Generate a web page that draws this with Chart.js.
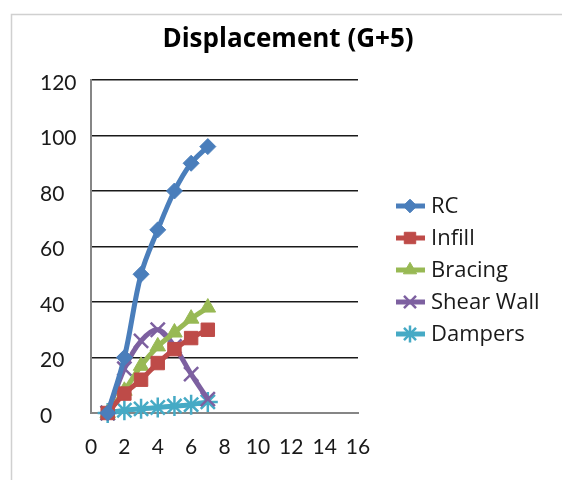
<!DOCTYPE html>
<html>
<head>
<meta charset="utf-8">
<script src="https://cdn.jsdelivr.net/npm/chart.js@4/dist/chart.umd.min.js"></script>
<style>
  html, body { margin: 0; padding: 0; background: #fff; }
  #wrap { width: 562px; height: 480px; position: relative; }
</style>
</head>
<body>
<div id="wrap"><canvas id="c" width="562" height="480"></canvas></div>
<script>
const chartTitle = 'Displacement (G+5)';
const seriesNames = ['RC', 'Infill', 'Bracing', 'Shear Wall', 'Dampers'];
const xValues = [1, 2, 3, 4, 5, 6, 7];
const rcValues = [0, 20, 50, 66, 80, 90, 96];
const infillValues = [0, 7, 12, 18, 23, 27, 30];
const bracingValues = [0, 8, 17, 24, 29, 34, 38];
const shearWallValues = [0, 16, 26, 30, 24, 14, 5];
const dampersValues = [0, 1, 1.5, 2, 2.5, 3, 4];
const xTicks = [0, 2, 4, 6, 8, 10, 12, 14, 16];
const yTicks = [0, 20, 40, 60, 80, 100, 120];

const colors = ['#4a7ebb', '#be4b48', '#98b954', '#7d60a0', '#46aac5'];
const pointStyles = ['rectRot', 'rect', 'triangle', 'crossRot', 'star'];
const pointRadii = [8, 9.5, 9, 10, 10];
const allValues = [rcValues, infillValues, bracingValues, shearWallValues, dampersValues];

const FONT = 'Lato, "Open Sans", sans-serif';
const WIDE_FONT = '"Open Sans", Lato, sans-serif';

const datasets = seriesNames.map((name, i) => ({
  label: name,
  data: xValues.map((x, j) => ({ x: x, y: allValues[i][j] })),
  showLine: true,
  borderColor: colors[i],
  backgroundColor: colors[i],
  borderWidth: 5,
  tension: 0.35,
  pointStyle: pointStyles[i],
  pointRadius: pointRadii[i],
  pointBackgroundColor: colors[i],
  pointBorderColor: colors[i],
  pointBorderWidth: (pointStyles[i] === 'crossRot' || pointStyles[i] === 'star') ? 2.5 : 1,
  clip: false
}));

const framePlugin = {
  id: 'frame',
  beforeDraw(chart) {
    const ctx = chart.ctx;
    ctx.save();
    ctx.fillStyle = '#ffffff';
    ctx.fillRect(0, 0, chart.width, chart.height);
    ctx.strokeStyle = '#d0d0d0';
    ctx.lineWidth = 1.5;
    ctx.strokeRect(11.5, 14.5, chart.width + 20, chart.height + 20);
    ctx.fillStyle = '#000000';
    ctx.font = 'bold 26px ' + WIDE_FONT;
    ctx.textAlign = 'center';
    ctx.textBaseline = 'middle';
    ctx.fillText(chartTitle, 288, 40);
    ctx.restore();
  }
};

const legendPlugin = {
  id: 'customLegend',
  afterDraw(chart) {
    const ctx = chart.ctx;
    const x0 = 396, x1 = 425, mx = 410, tx = 431, y0 = 206, dy = 32;
    ctx.save();
    chart.data.datasets.forEach((ds, i) => {
      const y = y0 + i * dy;
      ctx.strokeStyle = ds.borderColor;
      ctx.lineWidth = 5;
      ctx.beginPath();
      ctx.moveTo(x0, y);
      ctx.lineTo(x1, y);
      ctx.stroke();
      ctx.fillStyle = ds.pointBackgroundColor;
      ctx.strokeStyle = ds.pointBorderColor;
      ctx.lineWidth = ds.pointBorderWidth;
      Chart.helpers.drawPoint(ctx, {
        pointStyle: ds.pointStyle,
        radius: ds.pointRadius * 0.85,
        rotation: 0,
        borderWidth: ds.pointBorderWidth
      }, mx, y);
      ctx.fillStyle = '#1a1a1a';
      ctx.font = '22px ' + WIDE_FONT;
      ctx.textAlign = 'left';
      ctx.textBaseline = 'middle';
      ctx.fillText(ds.label, tx, y + 1);
    });
    ctx.restore();
  }
};

new Chart(document.getElementById('c'), {
  type: 'scatter',
  data: { datasets: datasets },
  options: {
    responsive: false,
    animation: false,
    devicePixelRatio: 1,
    layout: { padding: { left: 40, right: 204, top: 80, bottom: 0 } },
    plugins: {
      legend: { display: false },
      tooltip: { enabled: false },
      title: { display: false }
    },
    scales: {
      x: {
        type: 'linear',
        min: 0, max: 16,
        afterBuildTicks(scale) { scale.ticks = xTicks.map(v => ({ value: v })); },
        afterFit(scale) { scale.height = 67; },
        grid: { display: false, drawTicks: false },
        border: { display: true, color: '#868686', width: 2 },
        ticks: { color: '#1a1a1a', padding: 22, maxRotation: 0, autoSkip: false,
                 font: { family: FONT, size: 21 } }
      },
      y: {
        type: 'linear',
        min: 0, max: 120,
        afterBuildTicks(scale) { scale.ticks = yTicks.map(v => ({ value: v })); },
        afterFit(scale) { scale.width = 51; },
        grid: { color: '#1a1a1a', lineWidth: 1.5, drawTicks: false },
        border: { display: true, color: '#868686', width: 2 },
        ticks: { color: '#1a1a1a', crossAlign: 'far', padding: 16, autoSkip: false,
                 labelOffset: 3,
                 font: { family: FONT, size: 21 } }
      }
    }
  },
  plugins: [framePlugin, legendPlugin]
});
</script>
</body>
</html>
